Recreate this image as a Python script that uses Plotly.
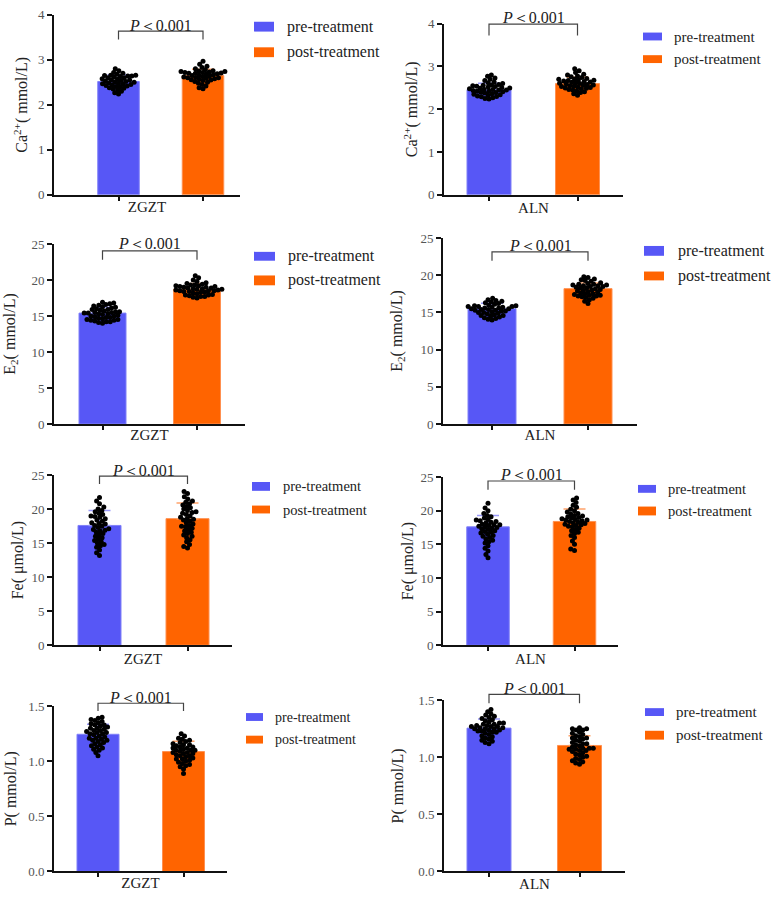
import plotly.graph_objects as go

W, H = 772, 903
BLUE = "#5757F6"
ORANGE = "#FF6400"
BLUE_ERR = "#9a9afa"
ORANGE_ERR = "#ffa36b"
FONT = "Liberation Serif, Times New Roman, serif"

groups = ["pre-treatment", "post-treatment"]
group_labels = ["ZGZT", "ALN", "ZGZT", "ALN", "ZGZT", "ALN", "ZGZT", "ALN"]
y_titles = ["Ca<sup>2+</sup>( mmol/L)", "Ca<sup>2+</sup>( mmol/L)",
            "E<sub>2</sub>( mmol/L)", "E<sub>2</sub>( mmol/L)",
            "Fe( μmol/L)", "Fe( μmol/L)",
            "P( mmol/L)", "P( mmol/L)"]
p_text = "<i>P</i>＜0.001"

# ---- bar heights (mean) and SD ----
ca_zgzt_mean = [2.52, 2.65]; ca_zgzt_sd = [0.15, 0.14]
ca_aln_mean = [2.46, 2.60];  ca_aln_sd = [0.15, 0.15]
e2_zgzt_mean = [15.4, 18.7]; e2_zgzt_sd = [0.8, 0.8]
e2_aln_mean = [15.5, 18.2];  e2_aln_sd = [0.75, 0.75]
fe_zgzt_mean = [17.6, 18.6]; fe_zgzt_sd = [2.2, 2.3]
fe_aln_mean = [17.6, 18.4];  fe_aln_sd = [1.7, 1.85]
p_zgzt_mean = [1.245, 1.088]; p_zgzt_sd = [0.09, 0.093]
p_aln_mean = [1.256, 1.104];  p_aln_sd = [0.08, 0.086]

# ---- individual points ----
ca_zgzt_pre = [2.80, 2.76, 2.72, 2.70, 2.68, 2.66, 2.66, 2.65, 2.64, 2.64, 2.63, 2.62, 2.60, 2.60,
               2.58, 2.57, 2.56, 2.55, 2.54, 2.53, 2.52, 2.51, 2.50, 2.49, 2.48, 2.47, 2.46, 2.45,
               2.44, 2.43, 2.42, 2.41, 2.40, 2.38, 2.37, 2.35, 2.33, 2.30, 2.27, 2.24]
ca_zgzt_post = [2.97, 2.90, 2.86, 2.83, 2.80, 2.78, 2.76, 2.75, 2.74, 2.74, 2.73, 2.72, 2.72, 2.71,
                2.70, 2.70, 2.69, 2.68, 2.67, 2.66, 2.65, 2.64, 2.63, 2.62, 2.61, 2.60, 2.60, 2.59,
                2.58, 2.57, 2.56, 2.55, 2.54, 2.52, 2.50, 2.48, 2.45, 2.42, 2.38, 2.36]
ca_aln_pre = [2.80, 2.77, 2.73, 2.70, 2.67, 2.64, 2.62, 2.60, 2.58, 2.57, 2.56, 2.55, 2.54, 2.53,
              2.52, 2.51, 2.50, 2.49, 2.48, 2.47, 2.46, 2.45, 2.45, 2.44, 2.43, 2.42, 2.41, 2.40,
              2.39, 2.38, 2.36, 2.35, 2.34, 2.33, 2.31, 2.30, 2.29, 2.27, 2.25, 2.24]
ca_aln_post = [2.95, 2.90, 2.86, 2.82, 2.80, 2.78, 2.76, 2.74, 2.72, 2.71, 2.70, 2.69, 2.68, 2.67,
               2.66, 2.65, 2.64, 2.63, 2.62, 2.61, 2.60, 2.59, 2.58, 2.57, 2.56, 2.55, 2.54, 2.53,
               2.52, 2.51, 2.50, 2.49, 2.48, 2.46, 2.45, 2.43, 2.41, 2.39, 2.36, 2.33]
e2_zgzt_pre = [16.9, 16.8, 16.7, 16.6, 16.5, 16.4, 16.3, 16.2, 16.1, 16.0, 15.9, 15.9, 15.8, 15.7,
               15.6, 15.6, 15.5, 15.5, 15.4, 15.4, 15.3, 15.3, 15.2, 15.1, 15.0, 15.0, 14.9, 14.8,
               14.8, 14.7, 14.6, 14.5, 14.5, 14.4, 14.3, 14.2, 14.2, 14.1, 14.0, 14.4]
e2_zgzt_post = [20.6, 20.3, 20.0, 19.8, 19.6, 19.5, 19.4, 19.3, 19.3, 19.2, 19.1, 19.1, 19.0, 19.0,
                18.9, 18.9, 18.8, 18.8, 18.7, 18.7, 18.6, 18.6, 18.5, 18.5, 18.4, 18.4, 18.3, 18.3,
                18.2, 18.1, 18.0, 17.9, 17.9, 17.8, 17.7, 17.7, 17.6, 17.5, 18.5, 19.2]
e2_aln_pre = [16.9, 16.7, 16.6, 16.5, 16.4, 16.3, 16.2, 16.1, 16.0, 15.9, 15.9, 15.8, 15.8, 15.7,
              15.7, 15.6, 15.6, 15.5, 15.5, 15.4, 15.4, 15.3, 15.3, 15.2, 15.1, 15.0, 15.0, 14.9,
              14.8, 14.7, 14.6, 14.6, 14.5, 14.4, 14.3, 14.2, 14.1, 14.0, 15.8, 15.2]
e2_aln_post = [19.8, 19.7, 19.5, 19.4, 19.3, 19.2, 19.0, 18.9, 18.8, 18.8, 18.7, 18.6, 18.6, 18.5,
               18.5, 18.4, 18.3, 18.3, 18.2, 18.1, 18.0, 18.0, 17.9, 17.8, 17.7, 17.6, 17.5, 17.4,
               17.3, 17.3, 17.2, 17.2, 17.1, 17.0, 16.9, 16.7, 16.5, 16.2, 18.7, 17.5]
fe_zgzt_pre = [21.7, 21.2, 20.8, 20.3, 20.0, 19.8, 19.6, 19.4, 19.2, 19.0, 18.8, 18.6, 18.4, 18.2,
               18.0, 17.8, 17.6, 17.5, 17.3, 17.1, 17.0, 16.8, 16.6, 16.4, 16.2, 16.0, 15.8, 15.6,
               15.4, 15.2, 15.0, 14.8, 14.6, 14.4, 14.0, 13.6, 13.2, 18.9, 17.9, 16.9]
fe_zgzt_post = [22.6, 22.3, 21.8, 21.5, 21.2, 21.0, 20.8, 20.6, 20.4, 20.2, 20.0, 19.8, 19.6, 19.4,
                19.2, 19.0, 18.8, 18.6, 18.4, 18.2, 18.0, 17.8, 17.6, 17.4, 17.2, 17.0, 16.8, 16.6,
                16.4, 16.2, 16.0, 15.8, 15.5, 15.2, 14.8, 14.5, 14.3, 19.5, 18.5, 17.5]
fe_aln_pre = [21.1, 20.4, 20.0, 19.6, 19.3, 19.1, 18.9, 18.7, 18.6, 18.4, 18.3, 18.2, 18.0, 17.9,
              17.8, 17.7, 17.6, 17.5, 17.4, 17.3, 17.2, 17.0, 16.9, 16.8, 16.7, 16.5, 16.3, 16.2,
              16.0, 15.8, 15.6, 15.4, 15.2, 14.8, 14.4, 14.0, 13.5, 13.0, 17.9, 18.5]
fe_aln_post = [21.9, 21.6, 21.2, 20.8, 20.5, 20.2, 20.0, 19.8, 19.6, 19.5, 19.3, 19.2, 19.0, 18.9,
               18.8, 18.7, 18.6, 18.5, 18.4, 18.3, 18.2, 18.1, 18.0, 17.9, 17.8, 17.6, 17.4, 17.2,
               17.0, 16.8, 16.6, 16.3, 16.0, 15.5, 15.0, 14.3, 14.1, 18.6, 19.1, 17.7]
p_zgzt_pre = [1.40, 1.39, 1.38, 1.37, 1.36, 1.35, 1.34, 1.33, 1.32, 1.31, 1.30, 1.29, 1.28, 1.27,
              1.26, 1.25, 1.25, 1.24, 1.23, 1.22, 1.21, 1.20, 1.19, 1.18, 1.17, 1.16, 1.15, 1.14,
              1.13, 1.12, 1.11, 1.10, 1.08, 1.05, 1.28, 1.30, 1.21, 1.19, 1.33, 1.26]
p_zgzt_post = [1.25, 1.23, 1.21, 1.20, 1.19, 1.18, 1.17, 1.16, 1.15, 1.14, 1.13, 1.12, 1.11, 1.10,
               1.10, 1.09, 1.08, 1.07, 1.06, 1.05, 1.04, 1.03, 1.02, 1.01, 1.00, 0.99, 0.98, 0.97,
               0.96, 0.95, 0.93, 0.89, 1.12, 1.08, 1.05, 1.15, 1.02, 1.10, 1.07, 1.13]
p_aln_pre = [1.42, 1.40, 1.38, 1.37, 1.36, 1.35, 1.34, 1.33, 1.32, 1.31, 1.30, 1.29, 1.28, 1.28,
             1.27, 1.27, 1.26, 1.26, 1.25, 1.25, 1.24, 1.24, 1.23, 1.22, 1.21, 1.20, 1.19, 1.18,
             1.17, 1.16, 1.15, 1.14, 1.13, 1.12, 1.29, 1.30, 1.23, 1.25, 1.27, 1.22]
p_aln_post = [1.26, 1.25, 1.25, 1.24, 1.24, 1.22, 1.21, 1.20, 1.19, 1.18, 1.17, 1.16, 1.15, 1.14,
              1.13, 1.12, 1.11, 1.10, 1.09, 1.08, 1.08, 1.08, 1.07, 1.07, 1.06, 1.05, 1.04, 1.03,
              1.02, 1.01, 1.00, 0.99, 0.98, 0.97, 0.96, 0.95, 0.94, 1.06, 1.12, 1.17]

y_max = [4, 4, 25, 25, 25, 25, 1.5, 1.5]
y_dtick = [1, 1, 5, 5, 5, 5, 0.5, 0.5]
y_fmt = ["d", "d", "d", "d", "d", "d", ".1f", ".1f"]

data = [
    (ca_zgzt_mean, ca_zgzt_sd, ca_zgzt_pre, ca_zgzt_post),
    (ca_aln_mean, ca_aln_sd, ca_aln_pre, ca_aln_post),
    (e2_zgzt_mean, e2_zgzt_sd, e2_zgzt_pre, e2_zgzt_post),
    (e2_aln_mean, e2_aln_sd, e2_aln_pre, e2_aln_post),
    (fe_zgzt_mean, fe_zgzt_sd, fe_zgzt_pre, fe_zgzt_post),
    (fe_aln_mean, fe_aln_sd, fe_aln_pre, fe_aln_post),
    (p_zgzt_mean, p_zgzt_sd, p_zgzt_pre, p_zgzt_post),
    (p_aln_mean, p_aln_sd, p_aln_pre, p_aln_post),
]

# ---- layout geometry in pixels (positions only) ----
# left, right, blue centre, orange centre, bar width, y0 px, ytop px
geom = [
    (54, 240, 118.5, 203, 41.5, 191, 8),
    (444, 623, 489, 577.5, 44, 191, 17),
    (54, 245, 102.5, 197, 47, 424, 241),
    (443, 637, 492, 588, 48, 424, 235),
    (54, 232, 99.5, 187.5, 43, 649, 476),
    (443, 618, 488, 574.5, 42.5, 649, 478),
    (54, 227, 98, 183.5, 42, 879, 711),
    (444, 625, 489, 579.5, 44, 879, 705),
]
# axis-title standoffs (px): x title below axis, y title left of tick labels
x_standoff = [2, 3, 1, 1, 3, 3, 1, 2]
y_standoff = [6, 6, 12, 14, 4, 3, 8, 11]
# p text y, bracket y, bracket tick bottom y
ptext_pos = [(19, 24.5, 33), (11, 17.5, 29), (240, 248, 257), (243, 249, 258),
             (471, 477, 485), (475, 482, 491), (702, 708, 716), (693, 699, 708)]
# legend: swatch x0, x1, blue y0, blue y1, orange y0, orange y1, text x, font size
legend_pos = [(254, 274, 15, 25, 41, 51, 285, 16),
              (643, 662, 26, 34, 49, 57, 672, 15),
              (254, 275, 249, 258, 273, 283, 286, 16),
              (644, 664, 243, 253, 269, 278, 676, 16),
              (252, 270, 483, 492, 507, 515, 281, 14.5),
              (638, 656, 486, 494, 508, 517, 666, 14.5),
              (246, 263, 718, 726, 741, 749, 273, 14),
              (645, 664, 713, 721, 736, 745, 674, 15)]

DOT = 5.0      # marker diameter (px)
SPREAD = 4.0   # swarm spacing (px)


def px(x):
    return x / W


def py(y):
    return 1 - y / H


def swarm(vals, scale, d):
    n = len(vals)
    order = sorted(range(n), key=lambda i: vals[i])
    placed = []
    xs = [0.0] * n
    for i in order:
        y = vals[i] * scale
        cands = [0.0]
        for (qx, qy) in placed:
            dy = y - qy
            if abs(dy) < d:
                dx = (d * d - dy * dy) ** 0.5
                cands += [qx + dx, qx - dx]
        cands.sort(key=lambda c: (abs(c), c))
        for c in cands:
            if all((c - qx) ** 2 + (y - qy) ** 2 >= d * d - 1e-6 for qx, qy in placed):
                xs[i] = c
                placed.append((c, y))
                break
    return xs


fig = go.Figure()
layout = dict(width=W, height=H, margin=dict(l=0, r=0, t=0, b=0), autosize=False,
              plot_bgcolor="white", paper_bgcolor="white", showlegend=False,
              barmode="overlay",
              font=dict(family=FONT, color="#222"))
shapes = []
annotations = []

for k in range(8):
    n = k + 1
    sfx = "" if n == 1 else str(n)
    xa, ya = "x" + sfx, "y" + sfx
    left, right, cb, co, bw, y0, yt = geom[k]
    unit = co - cb
    yscale = (y0 - yt) / y_max[k]
    mean, sd, pre, post = data[k]

    for gi, (col, ecol, lcol) in enumerate([(BLUE, BLUE_ERR, "#8080f8"),
                                            (ORANGE, ORANGE_ERR, "#ff9050")]):
        fig.add_trace(go.Bar(
            x=[gi], y=[mean[gi]], width=bw / unit, xaxis=xa, yaxis=ya, name=groups[gi],
            marker=dict(color=col, line=dict(color=lcol, width=1)), opacity=1,
            error_y=dict(type="data", array=[sd[gi]], symmetric=False, arrayminus=[0],
                         color=ecol, thickness=1.5, width=11),
            hoverinfo="skip"))
    for gi, vals in enumerate([pre, post]):
        offs = swarm(vals, yscale, SPREAD)
        fig.add_trace(go.Scatter(
            x=[gi + o / unit for o in offs], y=vals, mode="markers", xaxis=xa, yaxis=ya,
            marker=dict(color="black", size=DOT, line=dict(width=0)), cliponaxis=False,
            hoverinfo="skip"))

    r0 = (left - cb) / unit
    r1 = (right - cb) / unit
    layout["xaxis" + sfx] = dict(domain=[px(left), px(right)], range=[r0, r1], anchor=ya,
                                 showline=True, linecolor="#111", linewidth=2,
                                 tickvals=[0, 1], ticks="outside", ticklen=4, tickwidth=1.5,
                                 tickcolor="#111", showticklabels=False, showgrid=False,
                                 zeroline=False, fixedrange=True,
                                 title=dict(text=group_labels[k], standoff=x_standoff[k],
                                            font=dict(family=FONT, size=15, color="#222")))
    layout["yaxis" + sfx] = dict(domain=[py(y0), py(yt)], range=[0, y_max[k]], anchor=xa,
                                 showline=True, linecolor="#111", linewidth=2,
                                 dtick=y_dtick[k], tick0=0, tickformat=y_fmt[k],
                                 ticks="outside", ticklen=5, tickwidth=1.5, tickcolor="#111",
                                 tickfont=dict(family=FONT, size=13, color="#555"),
                                 showgrid=False, zeroline=False, fixedrange=True,
                                 title=dict(text=y_titles[k], standoff=y_standoff[k],
                                            font=dict(family=FONT, size=16, color="#222")))

    # significance bracket
    pty, bry, brb = ptext_pos[k]
    shapes.append(dict(type="path", xref=xa, yref="paper",
                       path=f"M 0,{py(brb)} L 0,{py(bry)} L 1,{py(bry)} L 1,{py(brb)}",
                       line=dict(color="#444", width=1.2)))
    annotations.append(dict(text=p_text, x=0.5, y=py(pty), xref=xa, yref="paper",
                            showarrow=False, xanchor="center", yanchor="middle",
                            font=dict(family=FONT, size=16, color="#222")))

    # legend swatches + labels
    sx0, sx1, by0, by1, oy0, oy1, ltx, lfs = legend_pos[k]
    for (c, a0, a1, lab) in [(BLUE, by0, by1, groups[0]), (ORANGE, oy0, oy1, groups[1])]:
        shapes.append(dict(type="rect", xref="paper", yref="paper",
                           x0=px(sx0), x1=px(sx1), y0=py(a1), y1=py(a0),
                           fillcolor=c, line=dict(width=0)))
        annotations.append(dict(text=lab, x=px(ltx), y=py((a0 + a1) / 2), xref="paper",
                                yref="paper", showarrow=False, xanchor="left", yanchor="middle",
                                font=dict(family=FONT, size=lfs, color="#222")))

layout["shapes"] = shapes
layout["annotations"] = annotations
fig.update_layout(**layout)
fig.write_html("out.html", config={"displayModeBar": False},
               post_script="document.body.style.margin='0';document.body.style.overflow='hidden';")
